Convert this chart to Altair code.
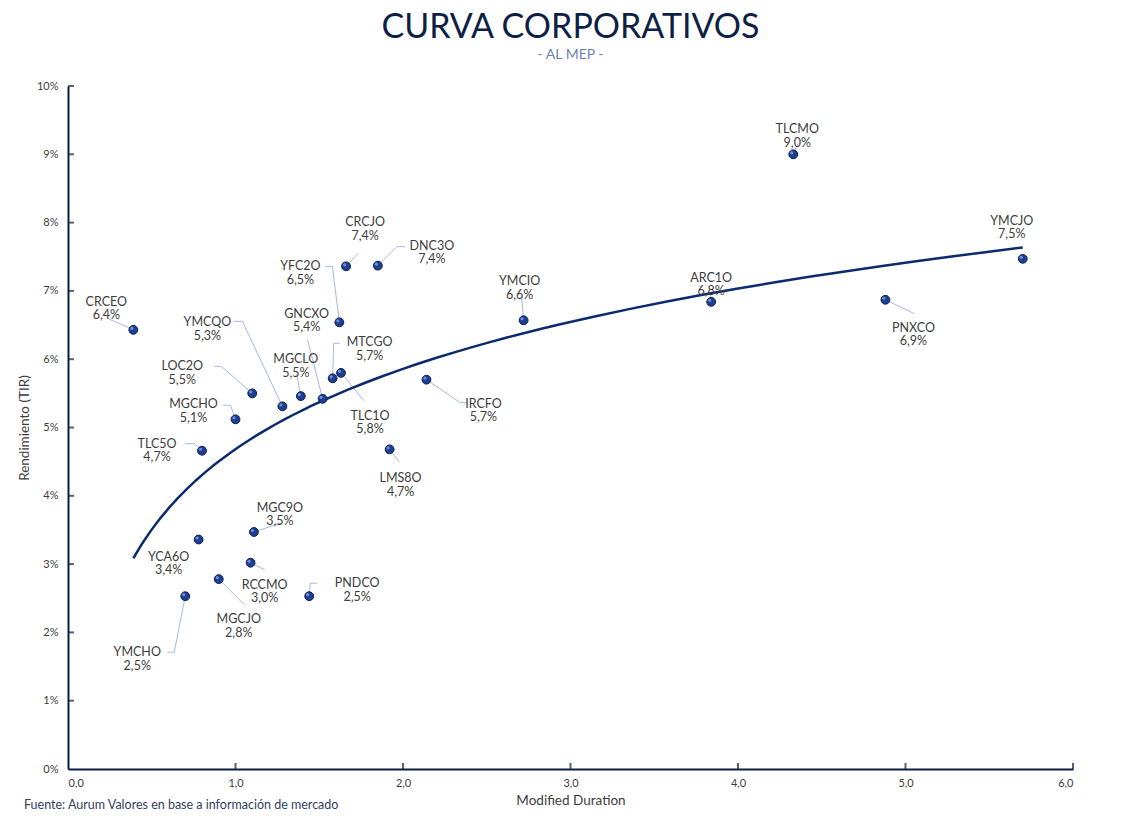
import altair as alt
import pandas as pd

# ---- data ----
names = ["CRCEO", "YMCQO", "LOC2O", "MGCHO", "TLC5O", "MGCLO", "GNCXO", "MTCGO",
         "TLC1O", "YFC2O", "CRCJO", "DNC3O", "IRCFO", "LMS8O", "YMCIO", "ARC1O",
         "TLCMO", "YMCJO", "PNXCO", "MGC9O", "YCA6O", "RCCMO", "MGCJO", "YMCHO", "PNDCO"]
duration = [0.39, 1.28, 1.10, 1.00, 0.80, 1.39, 1.52, 1.58,
            1.63, 1.62, 1.66, 1.85, 2.14, 1.92, 2.72, 3.84,
            4.33, 5.70, 4.88, 1.11, 0.78, 1.09, 0.90, 0.70, 1.44]
tir = [6.43, 5.31, 5.50, 5.12, 4.66, 5.46, 5.42, 5.72,
       5.80, 6.54, 7.36, 7.37, 5.70, 4.68, 6.57, 6.84,
       9.00, 7.47, 6.87, 3.47, 3.36, 3.02, 2.78, 2.53, 2.53]

x_ticks = [0, 1, 2, 3, 4, 5, 6]
y_ticks = [0, 1, 2, 3, 4, 5, 6, 7, 8, 9, 10]

# ---- annotation layout (pixel offsets of label centre and leader bends from each point) ----
label_dx = [-27, -75, -70, -42, -45, -5, -16, 37, 29, -39, 19, 54, 57, 11, -4, 0,
            4, -11, 28, 26, -30, 14, 20, -48, 48]
label_dy = [-28, -84, -27, -15, -7, -37, -85, -36, 43, -56, -44, -20, 24, 29, -39, -24,
            -25, -38, 28, -24, 17, 22, 40, 56, -13]
leaders = [
    [(-27, -12)],
    [(-40, -85), (-49, -85)],
    [(-31, -27), (-38, -27)],
    [(-5, -14), (-12, -14)],
    [(-7, -7), (-17, -7)],
    [(-4, -22)],
    [(-15, -59)],
    [(1, -35), (7, -35)],
    [(23, 28)],
    [(-7, -56), (-14, -56)],
    [(12, -13)],
    [(19, -19), (27, -19)],
    [(34, 23), (41, 23)],
    [(10, 13)],
    [(-2, -24)],
    [(-1, -10)],
    [(5, -11)],
    [],
    [(29, 14)],
    [(27, -9)],
    [],
    [(14, 7)],
    [(26, 26)],
    [(-11, 56), (-18, 56)],
    [(1, -13), (8, -13)],
]

W, H = 1005, 683
kx = W / 6.0
ky = H / 10.0

NAVY = "#0d1f45"
TEXT = "#3d3d3d"

pts = pd.DataFrame({"name": names, "dur": duration, "tir": tir})
pts["label"] = [f"{n}\n{v:.1f}%".replace(".", ",") for n, v in zip(names, tir)]
pts["lx"] = [d + dx / kx for d, dx in zip(duration, label_dx)]
pts["ly"] = [t - dy / ky for t, dy in zip(tir, label_dy)]

rows = []
for n, d, t, path in zip(names, duration, tir, leaders):
    if not path:
        continue
    rows.append({"name": n, "o": 0, "x": d, "y": t})
    for i, (px, py) in enumerate(path):
        rows.append({"name": n, "o": i + 1, "x": d + px / kx, "y": t - py / ky})
lead = pd.DataFrame(rows)

xs = alt.Scale(domain=[0, 6], nice=False)
ys = alt.Scale(domain=[0, 10], nice=False)

x_axis = alt.Axis(values=x_ticks, labelExpr="replace(format(datum.value, '.1f'), '.', ',')",
                  title="Modified Duration", grid=False, ticks=False, domainColor=NAVY,
                  domainWidth=2, labelColor=TEXT, labelFontSize=11, labelFont="Lato",
                  labelPadding=8, titleFont="Lato", titleFontSize=13.5, titleColor=TEXT,
                  titleFontWeight="normal", titlePadding=5)
y_axis = alt.Axis(values=y_ticks, labelExpr="datum.value + '%'", title="Rendimiento (TIR)",
                  grid=False, ticks=False, domainColor=NAVY, domainWidth=2, labelColor=TEXT,
                  labelFontSize=11, labelFont="Lato", labelPadding=10, titleFont="Lato",
                  titleFontSize=13.5, titleColor=TEXT, titleFontWeight="normal", titlePadding=5)

base = alt.Chart(pts)

leader_layer = alt.Chart(lead).mark_line(color="#a9b7dd", strokeWidth=1).encode(
    x=alt.X("x:Q", scale=xs, axis=x_axis),
    y=alt.Y("y:Q", scale=ys, axis=y_axis),
    detail="name:N",
    order="o:Q",
)

trend = base.transform_regression("dur", "tir", method="log").mark_line(
    color="#0c2a6e", strokeWidth=2.5
).encode(x=alt.X("dur:Q", scale=xs), y=alt.Y("tir:Q", scale=ys))

points = base.mark_circle(size=78, color="#1d3f91", stroke="#0b1f57", strokeWidth=1,
                          opacity=1).encode(
    x=alt.X("dur:Q", scale=xs), y=alt.Y("tir:Q", scale=ys))

shine = base.mark_circle(size=10, color="#8aa2e0", opacity=0.8, xOffset=-1.5, yOffset=-1.5).encode(
    x=alt.X("dur:Q", scale=xs), y=alt.Y("tir:Q", scale=ys))

labels = base.mark_text(lineBreak="\n", font="Lato", fontSize=12.5, color=TEXT,
                        baseline="middle", align="center", lineHeight=13.5).encode(
    x=alt.X("lx:Q", scale=xs), y=alt.Y("ly:Q", scale=ys), text="label:N")

xt = alt.Chart(pd.DataFrame({"v": x_ticks[1:]})).mark_tick(
    orient="vertical", color=NAVY, size=6, thickness=2).encode(
    x=alt.X("v:Q", scale=xs), y=alt.value(H - 3))
yt = alt.Chart(pd.DataFrame({"v": y_ticks[1:]})).mark_tick(
    orient="horizontal", color=NAVY, size=6, thickness=2).encode(
    y=alt.Y("v:Q", scale=ys), x=alt.value(3))

footer = alt.Chart(pd.DataFrame({"t": ["Fuente: Aurum Valores en base a información de mercado"]})).mark_text(
    align="left", baseline="middle", font="Lato", fontSize=12.5, color="#33405f").encode(
    x=alt.value(-44), y=alt.value(H + 36), text="t:N")

chart = alt.layer(leader_layer, trend, points, shine, labels, xt, yt, footer).properties(
    width=W, height=H,
    title=alt.TitleParams("CURVA CORPORATIVOS", subtitle="- AL MEP -", font="Lato",
                          fontSize=34, fontWeight=400, color=NAVY, subtitleFont="Lato",
                          subtitleFontSize=14, subtitleColor="#6f7fb8", anchor="middle",
                          offset=18, subtitlePadding=3),
    padding={"left": 60, "top": 78, "right": 50, "bottom": 44},
    autosize=alt.AutoSizeParams(type="none"),
).configure_view(stroke=None)

chart.save("out.html", embed_options={"renderer": "svg", "actions": False})
